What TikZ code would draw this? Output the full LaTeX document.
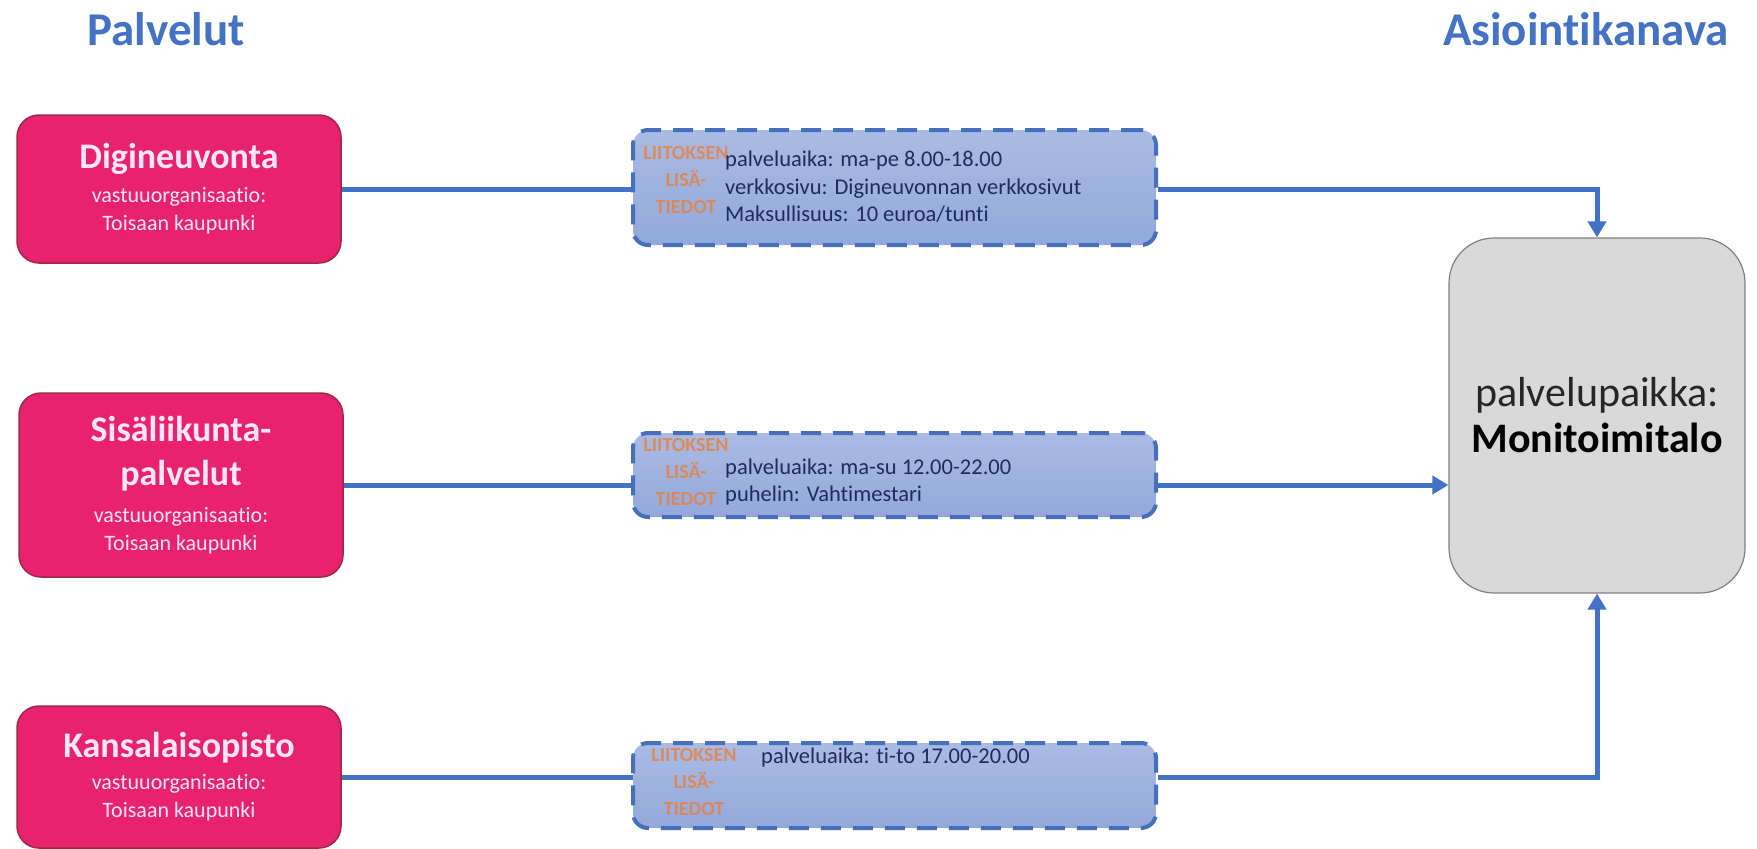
\documentclass[tikz,border=0pt]{standalone}
\usepackage{fontspec}
\setmainfont{Carlito}[Ligatures={NoCommon}]
\usetikzlibrary{arrows.meta}
\definecolor{hdr}{HTML}{4472C4}
\definecolor{pinkfill}{HTML}{E8226F}
\definecolor{pinkborder}{HTML}{9A2A45}
\definecolor{pinktext}{HTML}{FFE6F3}
\definecolor{dashline}{HTML}{4670BC}
\definecolor{dashtop}{HTML}{AABBE3}
\definecolor{dashbot}{HTML}{93A9DB}
\definecolor{infotext}{HTML}{1F2B5E}
\definecolor{lblorange}{HTML}{ED7D31}
\definecolor{grayfill}{HTML}{D9D9D9}
\definecolor{grayline}{HTML}{808080}
\newcommand\ptitle[1]{{\fontsize{36}{40}\selectfont\bfseries #1}}
\begin{document}
\begin{tikzpicture}[x=1pt,y=-1pt,
  header/.style={anchor=base, text=hdr, font=\fontsize{47}{50}\selectfont\bfseries, inner sep=0pt},
  pinkbox/.style={draw=pinkborder, line width=1.5pt, fill=pinkfill, rounded corners=22pt,
    minimum width=324pt, inner sep=0pt, align=center, text=pinktext,
    font=\fontsize{22}{28}\selectfont},
  infobox/.style={draw=dashline, line width=4pt, dash pattern=on 20pt off 12pt,
    top color=dashtop, bottom color=dashbot, rounded corners=15pt,
    minimum width=523pt, inner sep=0pt},
  infotxt/.style={anchor=west, inner sep=0pt, align=left, text=infotext,
    font=\fontsize{22.5}{27.5}\selectfont},
  lbl/.style={inner sep=0pt, align=center, text=lblorange, text opacity=0.75,
    font=\fontsize{20}{27}\selectfont\bfseries},
  placebox/.style={draw=grayline, line width=1.2pt, fill=grayfill, rounded corners=45pt,
    minimum width=296pt, minimum height=355pt, inner sep=0pt, align=center,
    text=black!85, font=\fontsize{42}{46}\selectfont},
  conn/.style={draw=hdr, line width=5pt},
  arr/.style={conn, -{Triangle[width=18pt,length=16pt]}}
]
\useasboundingbox (0,0) rectangle (1757,849);

\node[header] (h1) at (166,45) {Palvelut};
\node[header] (h2) at (1586,45) {Asiointikanava};

\node[placebox] (g) at (1597,415.5) {palvelupaikka:\\{\bfseries\color{black} Monitoimitalo}};

\node[pinkbox, minimum height=148pt] (p1) at (179,189) {\ptitle{Digineuvonta}\\[6pt]vastuuorganisaatio:\\Toisaan kaupunki};
\node[pinkbox, minimum height=184pt] (p2) at (181,485) {\ptitle{Sisäliikunta-}\\[16pt]\ptitle{palvelut}\\[9pt]vastuuorganisaatio:\\Toisaan kaupunki};
\node[pinkbox, minimum height=142pt] (p3) at (179,777) {\ptitle{Kansalaisopisto}\\[4pt]vastuuorganisaatio:\\Toisaan kaupunki};

\draw[conn] (p1.east) -- (p1.east -| 640,0);
\draw[conn] (p2.east) -- (p2.east -| 640,0);
\draw[conn] (p3.east) -- (p3.east -| 640,0);

\node[infobox, minimum height=115pt] (d1) at (894.5,187.5) {};
\node[infobox, minimum height=84pt] (d2) at (894.5,475) {};
\node[infobox, minimum height=85pt] (d3) at (894.5,785.5) {};

\node[lbl] (l1) at (686,180) {LIITOKSEN\\LISÄ-\\TIEDOT};
\node[lbl] (l2) at (686,472) {LIITOKSEN\\LISÄ-\\TIEDOT};
\node[lbl] (l3) at (694,782) {LIITOKSEN\\LISÄ-\\TIEDOT};

\node[infotxt] (t1) at (725,187) {palveluaika: ma-pe 8.00-18.00\\verkkosivu: Digineuvonnan verkkosivut\\Maksullisuus: 10 euroa/tunti};
\node[infotxt] (t2) at (725,482) {palveluaika: ma-su 12.00-22.00\\puhelin: Vahtimestari};
\node[infotxt] (t3) at (761,757) {palveluaika: ti-to 17.00-20.00};

\draw[arr] (d1.east |- p1.east) -| (g.north);
\draw[arr] (d2.east |- p2.east) -- (g.west |- p2.east);
\draw[arr] (d3.east |- p3.east) -| (g.south);
\end{tikzpicture}
\end{document}
